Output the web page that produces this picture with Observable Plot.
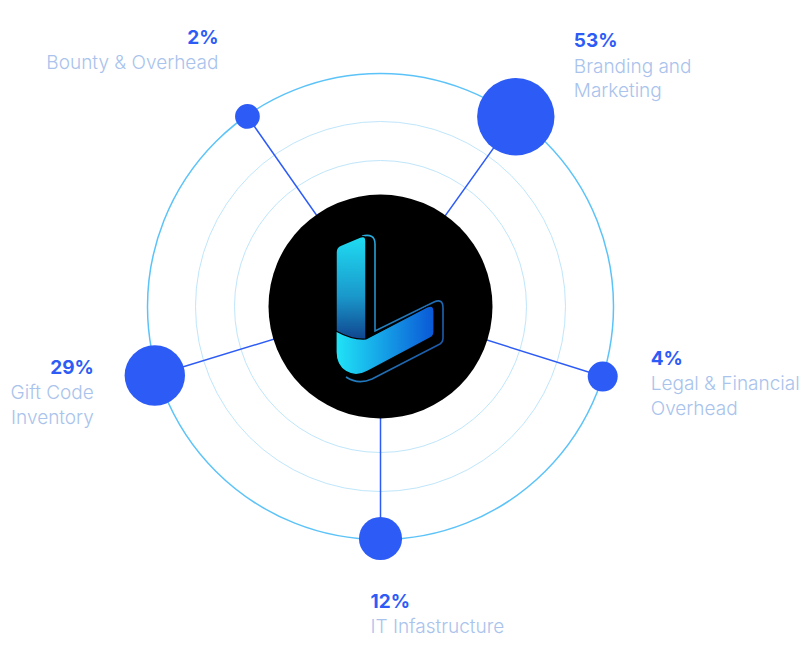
<!DOCTYPE html>
<html>
<head>
<meta charset="utf-8">
<script src="https://cdn.jsdelivr.net/npm/d3@7"></script>
<script src="https://cdn.jsdelivr.net/npm/@observablehq/plot@0.6"></script>
<style>
  html, body { margin: 0; padding: 0; background: #ffffff; }
  #chart { width: 810px; height: 660px; }
</style>
</head>
<body>
<div id="chart"></div>
<script>
// ---- data ----
const categories = ["Branding and Marketing", "Legal & Financial Overhead", "IT Infastructure", "Gift Code Inventory", "Bounty & Overhead"];
const shares = [53, 4, 12, 29, 2];
const labelLines = ["Branding and\nMarketing", "Legal & Financial\nOverhead", "IT Infastructure", "Gift Code\nInventory", "Bounty & Overhead"];
const pctLabels = shares.map(v => v + "%");

// ---- layout (pixels) ----
const orbit = [233, 233, 232, 236, 232];          // distance of each bubble from the centre
const angles = [35.5, 107.5, 180, 253, 325];       // clockwise from north
const ringRadii = [233, 185, 146];
const ringStrokes = ["#5cc3f9", "#bfe6fb", "#bfe6fb"];
const ringWidths = [1.5, 1, 1];
// label offsets from bubble centre: [dx, dy of the percent line, anchor]
const labelOffsets = [[58, -76, "start"], [48, -18, "start"], [-10, 63, "start"], [-61, -8, "end"], [-29, -79, "end"]];

const blue = "#2d5bf6";
const lightLabel = "#a9c3ec";
const font = "Inter, 'Noto Sans', sans-serif";

const rows = categories.map((c, i) => {
  const a = angles[i] * Math.PI / 180;
  const x = orbit[i] * Math.sin(a), y = -orbit[i] * Math.cos(a);
  const [dx, dy, anchor] = labelOffsets[i];
  return {category: c, share: shares[i], pct: pctLabels[i], label: labelLines[i],
          x, y, lx: x + dx, py: y + dy, ly: y + dy + 26 - 11.5, anchor};
});
const centre = [{x: 0, y: 0}];
const rings = ringRadii.map((r, i) => ({x: 0, y: 0, r, stroke: ringStrokes[i], w: ringWidths[i]}));

const marks = [];
rings.forEach(rg => marks.push(Plot.dot([rg], {x: "x", y: "y", r: rg.r, fill: "none", stroke: rg.stroke, strokeWidth: rg.w})));
marks.push(Plot.link(rows, {x1: 0, y1: 0, x2: "x", y2: "y", stroke: blue, strokeWidth: 1.5}));
marks.push(Plot.dot(centre, {x: "x", y: "y", r: 112, fill: "#000000", stroke: "none"}));
marks.push(Plot.dot(rows, {x: "x", y: "y", r: "share", fill: blue, stroke: "none"}));
for (const anchor of ["start", "end"]) {
  const sub = rows.filter(d => d.anchor === anchor);
  marks.push(Plot.text(sub, {x: "lx", y: "py", text: "pct", textAnchor: anchor, lineAnchor: "middle",
    fill: blue, fontSize: 19, fontWeight: 700, fontFamily: font}));
  marks.push(Plot.text(sub, {x: "lx", y: "ly", text: "label", textAnchor: anchor, lineAnchor: "top", lineHeight: 1.29,
    fill: lightLabel, fontSize: 19, fontWeight: 300, fontFamily: font}));
}

const plot = Plot.plot({
  width: 810,
  height: 660,
  margin: 0,
  x: {domain: [-380, 430], range: [0, 810], axis: null},
  y: {domain: [-306, 354], range: [0, 660], axis: null},
  r: {type: "sqrt", domain: [0, 53], range: [6, 38.7]},
  style: {background: "#ffffff"},
  marks
});
document.getElementById("chart").appendChild(plot);

// ---- centre logo (decoration) ----
const sx = plot.scale("x"), sy = plot.scale("y");
const cx = sx && sx.apply ? sx.apply(0) : 380;
const cy = sy && sy.apply ? sy.apply(0) : 306;
const svg = d3.select(plot);
const defs = svg.append("defs");
const g1 = defs.append("linearGradient").attr("id", "vgrad").attr("x1", 0).attr("y1", 0).attr("x2", 0).attr("y2", 1);
g1.append("stop").attr("offset", "0%").attr("stop-color", "#1fdcf2");
g1.append("stop").attr("offset", "55%").attr("stop-color", "#1a98cb");
g1.append("stop").attr("offset", "100%").attr("stop-color", "#0e3a86");
const g2 = defs.append("linearGradient").attr("id", "hgrad").attr("x1", 0).attr("y1", 0).attr("x2", 1).attr("y2", 0);
g2.append("stop").attr("offset", "0%").attr("stop-color", "#20e4f6");
g2.append("stop").attr("offset", "100%").attr("stop-color", "#0a58d6");
const g3 = defs.append("linearGradient").attr("id", "sgrad").attr("x1", 0).attr("y1", 0).attr("x2", 1).attr("y2", 1);
g3.append("stop").attr("offset", "0%").attr("stop-color", "#2bb8e2");
g3.append("stop").attr("offset", "100%").attr("stop-color", "#1a4aa0");

const logo = svg.append("g").attr("transform", `translate(${cx - 380},${cy - 306})`);
// extrusion outline
logo.append("path")
  .attr("d", "M362,236 Q375,233 375,244 L375,331 L434,302 Q443,298 443,308 L443,338 Q443,343 438,345 L372,379 Q358,385 346,377")
  .attr("fill", "none").attr("stroke", "url(#sgrad)").attr("stroke-width", 1.6);
// vertical bar
logo.append("path")
  .attr("d", "M336,252 Q336,247 341,245 L360,237 Q366,235 366,241 L366,345 L336,345 Z")
  .attr("fill", "url(#vgrad)").attr("stroke", "#000").attr("stroke-width", 1.5);
// diagonal band
logo.append("path")
  .attr("d", "M336,331 Q352,340 366,339 L427,307 Q434,304 434,311 L434,332 Q434,336 430,338 L368,371 C352,380 336,370 336,352 Z")
  .attr("fill", "url(#hgrad)").attr("stroke", "#000").attr("stroke-width", 1.2);
</script>
</body>
</html>
